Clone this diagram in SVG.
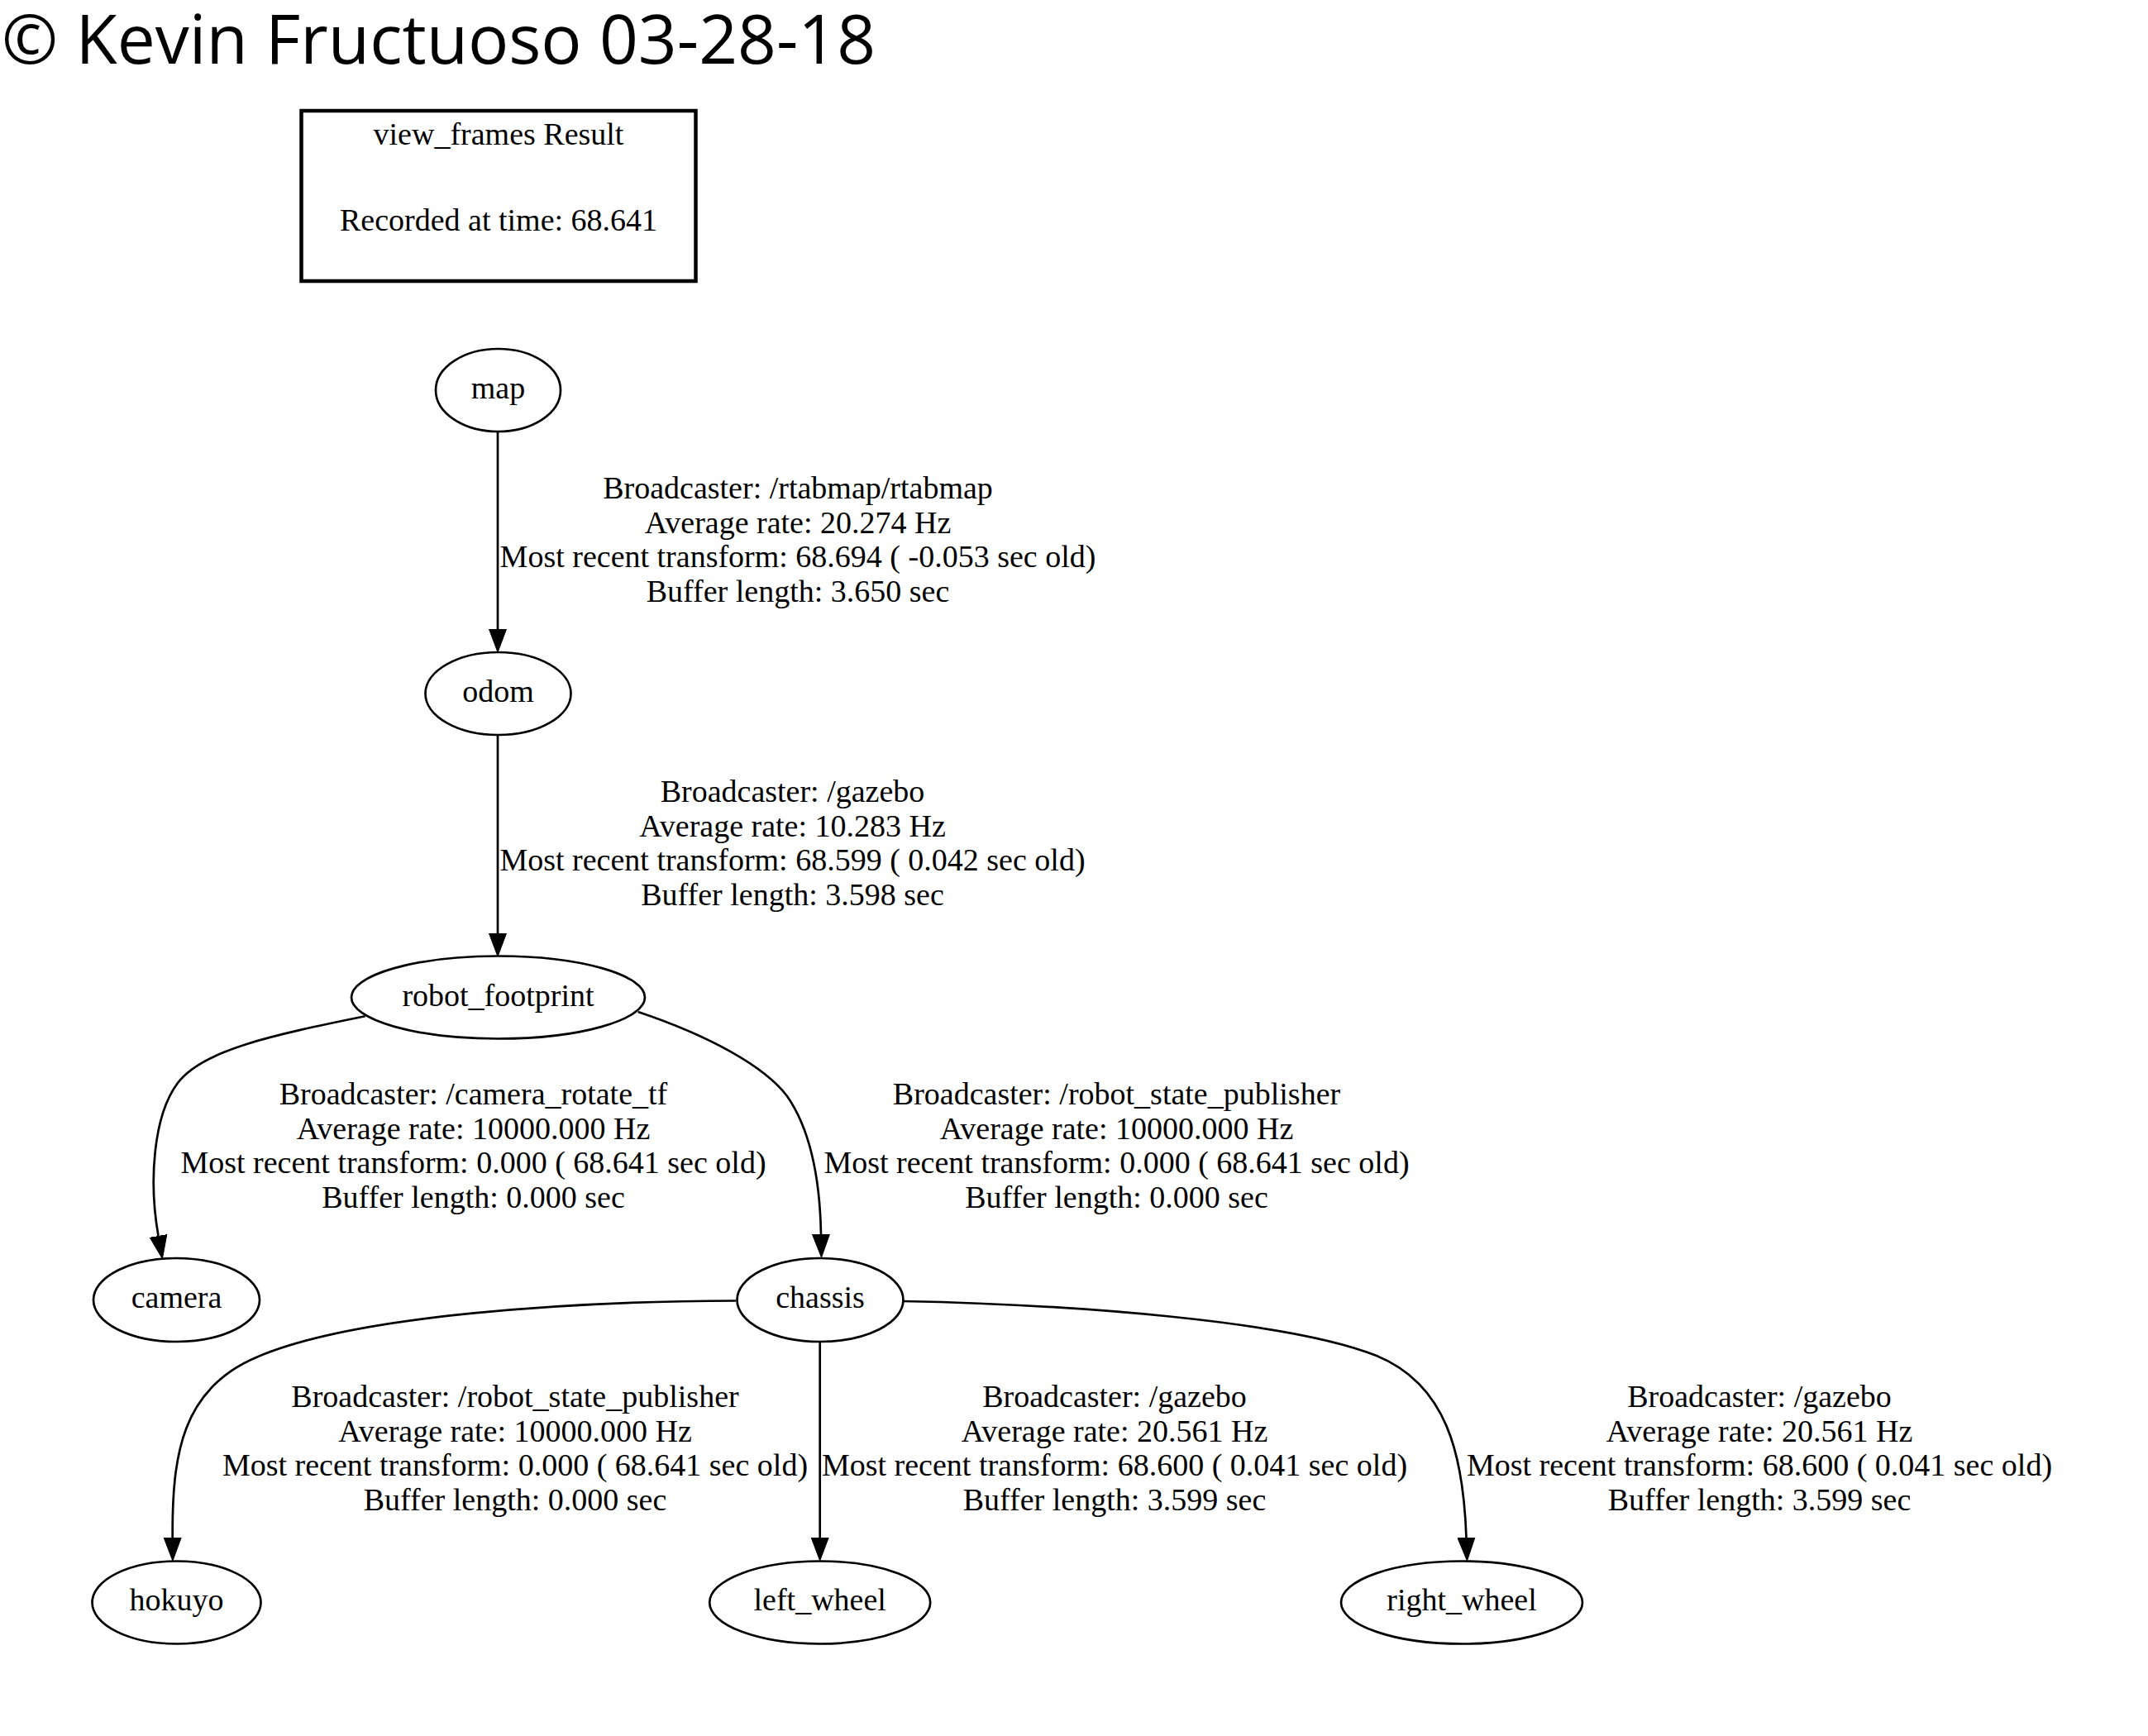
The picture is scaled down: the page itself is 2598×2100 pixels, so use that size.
<svg xmlns="http://www.w3.org/2000/svg" width="2598" height="2100" viewBox="0 0 2598 2100">
<style>
.bg{fill:#ffffff}
.node ellipse{fill:none;stroke:#000;stroke-width:2.7}
.t{font-family:"Liberation Serif","Times New Roman",serif;font-size:38px;fill:#000;text-anchor:middle}
.edge{fill:none;stroke:#000;stroke-width:2.7}
.title{font-family:"Open Sans","Noto Sans",sans-serif;font-size:82px;fill:#000}
</style>
<defs>
<marker id="ah" markerUnits="userSpaceOnUse" markerWidth="30" markerHeight="22" refX="0" refY="10.5" orient="auto" viewBox="0 0 30 21">
<path d="M0,0 L28,10.5 L0,21 z" fill="#000" stroke="#000" stroke-width="1"/>
</marker>
</defs>
<rect class="bg" x="0" y="0" width="2598" height="2100"/>
<text class="title" x="2" y="77">© Kevin Fructuoso 03-28-18</text>

<g id="header" class="node">
<rect x="364.5" y="134" width="477" height="206" fill="none" stroke="#000" stroke-width="4.5"/>
<text class="t" x="603" y="175">view_frames Result</text>
<text class="t" x="603" y="279">Recorded at time: 68.641</text>
</g>

<g id="connectors">
<g id="e_map_odom">
<path class="edge" d="M602,522 L602,761" marker-end="url(#ah)"/>
<text class="t" x="965" y="603">Broadcaster: /rtabmap/rtabmap</text>
<text class="t" x="965" y="644.5">Average rate: 20.274 Hz</text>
<text class="t" x="965" y="686">Most recent transform: 68.694 ( -0.053 sec old)</text>
<text class="t" x="965" y="727.5">Buffer length: 3.650 sec</text>
</g>
<g id="e_odom_rf">
<path class="edge" d="M602,889.5 L602,1129" marker-end="url(#ah)"/>
<text class="t" x="958.5" y="970">Broadcaster: /gazebo</text>
<text class="t" x="958.5" y="1011.5">Average rate: 10.283 Hz</text>
<text class="t" x="958.5" y="1053">Most recent transform: 68.599 ( 0.042 sec old)</text>
<text class="t" x="958.5" y="1094.5">Buffer length: 3.598 sec</text>
</g>
<g id="e_rf_camera">
<path class="edge" d="M441.7,1229.3 C330,1252 245,1270 215,1310 C185,1350 180,1430 191.5,1495" marker-end="url(#ah)"/>
<text class="t" x="572.5" y="1336">Broadcaster: /camera_rotate_tf</text>
<text class="t" x="572.5" y="1377.5">Average rate: 10000.000 Hz</text>
<text class="t" x="572.5" y="1419">Most recent transform: 0.000 ( 68.641 sec old)</text>
<text class="t" x="572.5" y="1460.5">Buffer length: 0.000 sec</text>
</g>
<g id="e_rf_chassis">
<path class="edge" d="M771.7,1224 C858,1253 925,1290 952,1326 C984,1372 992,1440 993,1493" marker-end="url(#ah)"/>
<text class="t" x="1350.5" y="1336">Broadcaster: /robot_state_publisher</text>
<text class="t" x="1350.5" y="1377.5">Average rate: 10000.000 Hz</text>
<text class="t" x="1350.5" y="1419">Most recent transform: 0.000 ( 68.641 sec old)</text>
<text class="t" x="1350.5" y="1460.5">Buffer length: 0.000 sec</text>
</g>
<g id="e_chassis_hokuyo">
<path class="edge" d="M890,1573.5 C700,1574 430,1590 310,1642 C220,1680 208,1760 208.7,1860" marker-end="url(#ah)"/>
<text class="t" x="623" y="1702">Broadcaster: /robot_state_publisher</text>
<text class="t" x="623" y="1743.5">Average rate: 10000.000 Hz</text>
<text class="t" x="623" y="1785">Most recent transform: 0.000 ( 68.641 sec old)</text>
<text class="t" x="623" y="1826.5">Buffer length: 0.000 sec</text>
</g>
<g id="e_chassis_left_wheel">
<path class="edge" d="M991.7,1623 L991.7,1860" marker-end="url(#ah)"/>
<text class="t" x="1348" y="1702">Broadcaster: /gazebo</text>
<text class="t" x="1348" y="1743.5">Average rate: 20.561 Hz</text>
<text class="t" x="1348" y="1785">Most recent transform: 68.600 ( 0.041 sec old)</text>
<text class="t" x="1348" y="1826.5">Buffer length: 3.599 sec</text>
</g>
<g id="e_chassis_right_wheel">
<path class="edge" d="M1091,1574 C1300,1578 1560,1598 1665,1640 C1750,1675 1770,1760 1773.5,1860" marker-end="url(#ah)"/>
<text class="t" x="2128" y="1702">Broadcaster: /gazebo</text>
<text class="t" x="2128" y="1743.5">Average rate: 20.561 Hz</text>
<text class="t" x="2128" y="1785">Most recent transform: 68.600 ( 0.041 sec old)</text>
<text class="t" x="2128" y="1826.5">Buffer length: 3.599 sec</text>
</g>
</g>

<g id="map" class="node"><ellipse cx="602.5" cy="472" rx="75.5" ry="50"/><text class="t" x="602.5" y="482">map</text></g>
<g id="odom" class="node"><ellipse cx="602.5" cy="839" rx="88" ry="50"/><text class="t" x="602.5" y="849">odom</text></g>
<g id="robot_footprint" class="node"><ellipse cx="602.5" cy="1206.5" rx="177.5" ry="50"/><text class="t" x="602.5" y="1216.5">robot_footprint</text></g>
<g id="camera" class="node"><ellipse cx="213.5" cy="1572.5" rx="100.5" ry="50.5"/><text class="t" x="213.5" y="1582">camera</text></g>
<g id="chassis" class="node"><ellipse cx="992" cy="1572.5" rx="100.5" ry="50.5"/><text class="t" x="992" y="1582">chassis</text></g>
<g id="hokuyo" class="node"><ellipse cx="213.5" cy="1938.5" rx="102" ry="50"/><text class="t" x="213.5" y="1948">hokuyo</text></g>
<g id="left_wheel" class="node"><ellipse cx="991.7" cy="1938.5" rx="133.5" ry="50"/><text class="t" x="991.7" y="1948">left_wheel</text></g>
<g id="right_wheel" class="node"><ellipse cx="1768" cy="1938.5" rx="146" ry="50"/><text class="t" x="1768" y="1948">right_wheel</text></g>
</svg>
